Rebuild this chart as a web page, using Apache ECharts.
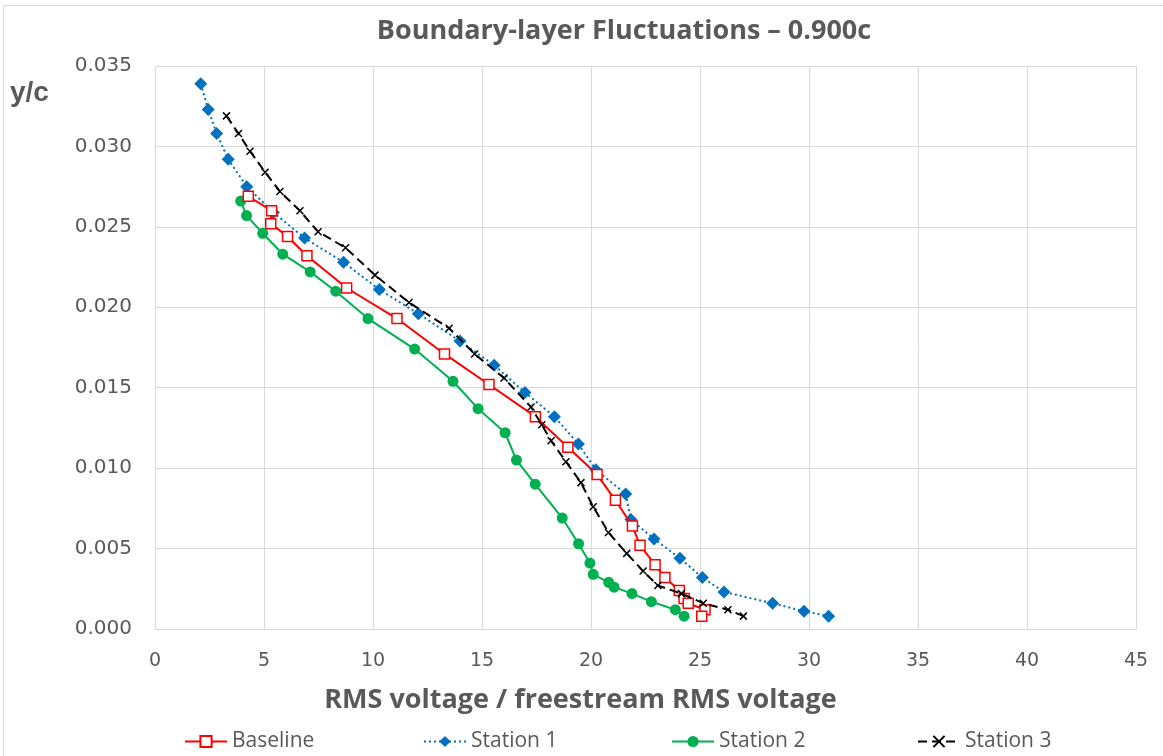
<!DOCTYPE html>
<html>
<head>
<meta charset="utf-8">
<script src="https://cdn.jsdelivr.net/npm/echarts@6/dist/echarts.min.js"></script>
<style>html,body{margin:0;padding:0;background:#fff}#c{width:1163px;height:756px}</style>
</head>
<body>
<div id="c"></div>
<script>
const titleText = 'Boundary-layer Fluctuations \u2013 0.900c';
const xTitle = 'RMS voltage / freestream RMS voltage';
const yTitle = 'y/c';
const seriesNames = ['Baseline', 'Station 1', 'Station 2', 'Station 3'];

const baselineX = [4.28,5.35,5.31,6.08,6.97,8.79,11.1,13.28,15.32,17.45,18.94,20.28,21.12,21.9,22.25,22.94,23.39,24.05,24.27,24.46,25.23,25.08];
const baselineY = [0.0269,0.0260,0.0252,0.0244,0.0232,0.0212,0.0193,0.0171,0.0152,0.0132,0.0113,0.0096,0.0080,0.0064,0.0052,0.0040,0.0032,0.0024,0.0019,0.0016,0.0012,0.0008];

const station1X = [2.10,2.44,2.83,3.36,4.21,5.43,6.86,8.65,10.29,12.08,13.99,15.56,16.97,18.32,19.42,20.22,21.59,21.83,22.89,24.08,25.11,26.1,28.33,29.77,30.9];
const station1Y = [0.0339,0.0323,0.0308,0.0292,0.0275,0.0259,0.0243,0.0228,0.0211,0.0196,0.0179,0.0164,0.0147,0.0132,0.0115,0.0099,0.0084,0.0068,0.0056,0.0044,0.0032,0.0023,0.0016,0.0011,0.0008];

const station2X = [3.93,4.2,4.94,5.86,7.12,8.29,9.77,11.91,13.67,14.82,16.06,16.58,17.44,18.68,19.43,19.95,20.1,20.81,21.06,21.88,22.77,23.87,24.27];
const station2Y = [0.0266,0.0257,0.0246,0.0233,0.0222,0.0210,0.0193,0.0174,0.0154,0.0137,0.0122,0.0105,0.0090,0.0069,0.0053,0.0041,0.0034,0.0029,0.0026,0.0022,0.0017,0.0012,0.0008];

const station3X = [3.28,3.83,4.36,5.05,5.73,6.65,7.48,8.74,10.09,11.65,13.49,14.66,16.01,17.25,17.74,18.17,18.85,19.54,20.1,20.8,21.64,22.39,23.07,24.15,25.15,26.28,26.99];
const station3Y = [0.0319,0.0308,0.0297,0.0284,0.0272,0.0260,0.0247,0.0237,0.0220,0.0203,0.0187,0.0171,0.0156,0.0138,0.0127,0.0117,0.0104,0.0091,0.0076,0.0060,0.0047,0.0036,0.0027,0.0022,0.0016,0.0012,0.0008];

const xTicks = {min: 0, max: 45, interval: 5};
const yTicks = {min: 0, max: 0.035, interval: 0.005};

function pairs(xs, ys) { return xs.map((x, i) => [x, ys[i]]); }

const gray = '#595959';
const grid = '#d9d9d9';
const xMark = 'path://M0,0L10,10M10,0L0,10';

const chart = echarts.init(document.getElementById('c'), null, {renderer: 'canvas'});
const legendBase = {
  top: 726, itemWidth: 42, itemHeight: 14, itemGap: 0,
  textStyle: {color: gray, fontSize: 21, fontFamily: 'Open Sans'}
};
chart.setOption({
  backgroundColor: '#fff',
  animation: false,
  title: {
    text: titleText, left: 619, top: 13, textAlign: 'center',
    textStyle: {color: gray, fontSize: 27, fontWeight: 'bold', fontFamily: 'Open Sans'}
  },
  graphic: [
    {type: 'rect', shape: {x: 3.5, y: 5.5, width: 1170, height: 760}, style: {fill: 'none', stroke: grid, lineWidth: 1}, silent: true},
    {type: 'text', left: 10, top: 79, style: {text: yTitle, fill: gray, font: 'bold 28px "Liberation Sans"'}}
  ],
  legend: [
    Object.assign({}, legendBase, {left: 179, data: [seriesNames[0]]}),
    Object.assign({}, legendBase, {left: 418, data: [seriesNames[1]]}),
    Object.assign({}, legendBase, {left: 666, data: [seriesNames[2]]}),
    Object.assign({}, legendBase, {left: 912, data: [seriesNames[3]]})
  ],
  grid: {left: 155, right: 27, top: 66, bottom: 127, containLabel: false},
  xAxis: {
    type: 'value', min: xTicks.min, max: xTicks.max, interval: xTicks.interval,
    name: xTitle, nameLocation: 'middle', nameGap: 58,
    nameTextStyle: {color: gray, fontSize: 27, fontWeight: 'bold', fontFamily: 'Open Sans', padding: [0, 130, 0, 0]},
    axisLine: {show: true, lineStyle: {color: grid, width: 1}},
    axisTick: {show: false},
    axisLabel: {color: gray, fontSize: 19, fontFamily: 'DejaVu Sans', margin: 23},
    splitLine: {show: true, lineStyle: {color: grid, width: 1}}
  },
  yAxis: {
    type: 'value', min: yTicks.min, max: yTicks.max, interval: yTicks.interval,
    axisLine: {show: false},
    axisTick: {show: false},
    axisLabel: {color: gray, fontSize: 20, fontFamily: 'DejaVu Sans', margin: 23, formatter: v => v.toFixed(3)},
    splitLine: {show: true, lineStyle: {color: grid, width: 1}}
  },
  series: [
    {
      name: seriesNames[0], type: 'line', data: pairs(baselineX, baselineY),
      symbol: 'rect', symbolSize: 10, showAllSymbol: true,
      lineStyle: {color: '#ff0000', width: 2},
      itemStyle: {color: '#ffffff', borderColor: '#ff0000', borderWidth: 1.5},
      z: 4
    },
    {
      name: seriesNames[1], type: 'line', data: pairs(station1X, station1Y),
      symbol: 'diamond', symbolSize: 13, showAllSymbol: true,
      lineStyle: {color: '#0070c0', width: 2, type: [2, 3]},
      itemStyle: {color: '#0070c0'},
      z: 3
    },
    {
      name: seriesNames[2], type: 'line', data: pairs(station2X, station2Y),
      symbol: 'circle', symbolSize: 11, showAllSymbol: true,
      lineStyle: {color: '#00b050', width: 2},
      itemStyle: {color: '#00b050'},
      z: 2
    },
    {
      name: seriesNames[3], type: 'line', data: pairs(station3X, station3Y),
      symbol: xMark, symbolSize: 7, showAllSymbol: true,
      lineStyle: {color: '#000000', width: 2, type: [9, 5]},
      itemStyle: {color: 'none', borderColor: '#000000', borderWidth: 1.5},
      z: 5
    }
  ]
});
</script>
</body>
</html>
